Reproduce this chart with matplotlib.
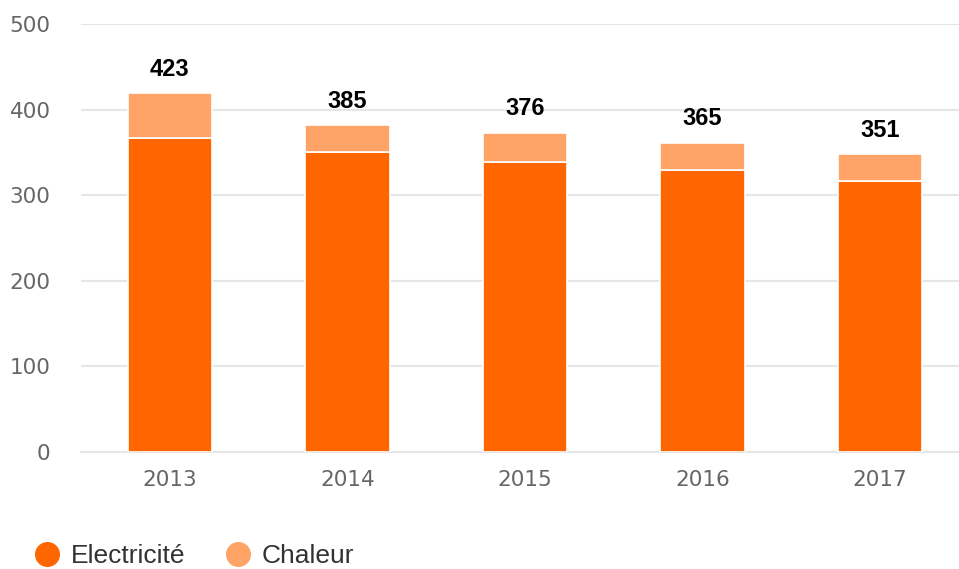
import matplotlib.pyplot as plt
from matplotlib.lines import Line2D

# Data
years = ['2013', '2014', '2015', '2016', '2017']
electricite = [367, 350, 339, 329, 317]
chaleur = [52, 32, 34, 32, 31]
totals = [423, 385, 376, 365, 351]

COLORS = {
    'elec': '#ff6600',
    'chaleur': '#ffa366',
    'grid': '#e6e6e6',
    'tick': '#666666',
}

fig = plt.figure(figsize=(9.59, 5.69), dpi=100)
ax = fig.add_axes([81 / 959, 117 / 569, 888 / 959, 428 / 569])

x = list(range(len(years)))
ax.bar(x, electricite, width=0.475, color=COLORS['elec'],
       edgecolor='white', linewidth=1.2, zorder=3)
ax.bar(x, chaleur, width=0.475, bottom=electricite, color=COLORS['chaleur'],
       edgecolor='white', linewidth=1.2, zorder=3)

for xi, e, c, t in zip(x, electricite, chaleur, totals):
    ax.annotate(str(t), (xi, e + c), textcoords='offset points', xytext=(0, 9),
                ha='center', va='bottom', fontsize=17, fontweight='bold',
                family='Liberation Sans', color='black')

ax.set_xlim(-0.5, len(years) - 0.5)
ax.set_ylim(0, 500)
ax.set_yticks([0, 100, 200, 300, 400, 500])
ax.set_xticks(x)
ax.set_xticklabels(years)

ax.grid(axis='y', color=COLORS['grid'], linewidth=1.5, zorder=0)
ax.grid(axis='x', visible=False)
for s in ['top', 'right', 'left']:
    ax.spines[s].set_visible(False)
ax.spines['bottom'].set_color(COLORS['grid'])
ax.spines['bottom'].set_linewidth(1.5)
ax.tick_params(axis='both', length=0, labelsize=15.5, labelcolor=COLORS['tick'])
ax.tick_params(axis='y', pad=22)
ax.tick_params(axis='x', pad=13)
for lab in ax.get_xticklabels() + ax.get_yticklabels():
    lab.set_family('DejaVu Sans')

handles = [
    Line2D([], [], marker='o', linestyle='none', markersize=17,
           markerfacecolor=COLORS['elec'], markeredgecolor=COLORS['elec']),
    Line2D([], [], marker='o', linestyle='none', markersize=17,
           markerfacecolor=COLORS['chaleur'], markeredgecolor=COLORS['chaleur']),
]
leg = fig.legend(handles, ['Electricité', 'Chaleur'], loc='center left',
                 bbox_to_anchor=(0.008, 0.022), ncol=2, frameon=False,
                 handletextpad=0.3, columnspacing=1.4, handlelength=1.2,
                 prop={'family': 'Liberation Sans', 'size': 19})
for t in leg.get_texts():
    t.set_color('#333333')

fig.savefig('out.png', dpi=100, facecolor='white')
